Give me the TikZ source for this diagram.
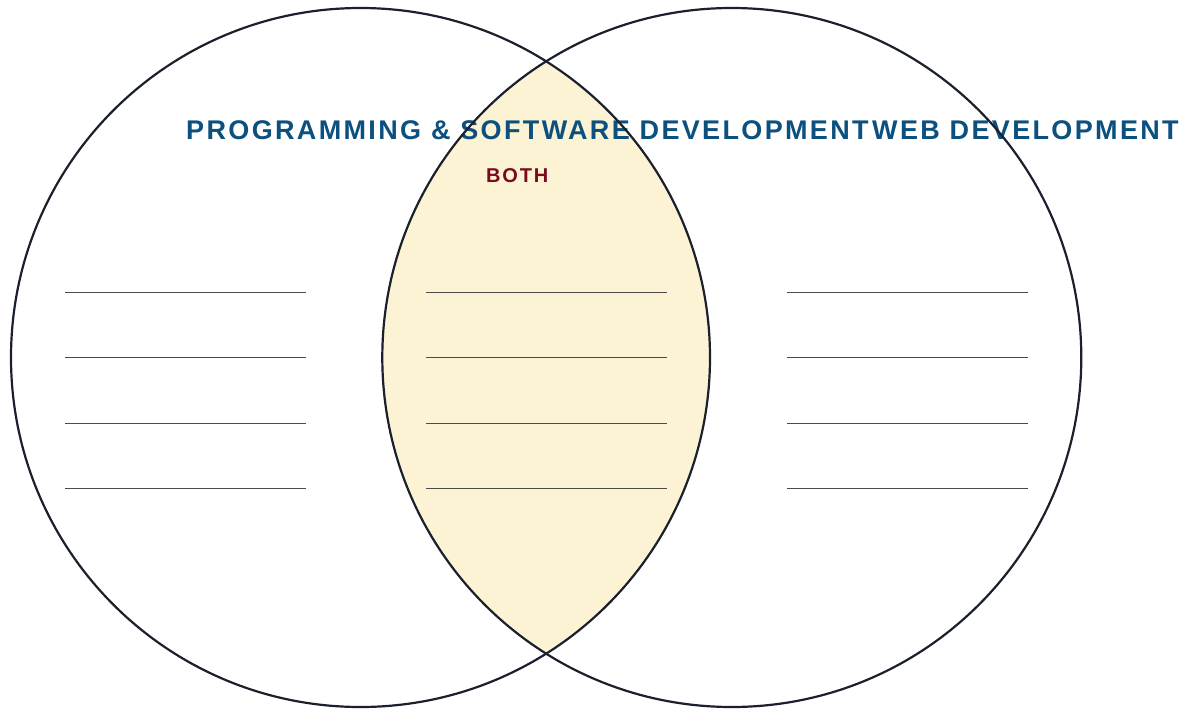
\documentclass[tikz,border=0pt]{standalone}
\usepackage{fontspec}
\newfontfamily\titlefont[LetterSpace=8.7]{Liberation Sans}
\newfontfamily\bothfont[LetterSpace=9]{Liberation Sans}
\definecolor{ringcol}{HTML}{1A202C}
\definecolor{lenscol}{HTML}{FCF3D4}
\definecolor{titleblue}{HTML}{0B507E}
\definecolor{bothred}{HTML}{7A0A1E}
\definecolor{rulegray}{HTML}{4A4A4A}
\tikzset{
  ring/.style={draw=ringcol, line width=2.2pt},
  writeline/.style={draw=rulegray, line width=0.9pt},
  titletext/.style={anchor=base west, inner sep=0pt, text=titleblue, font=\titlefont\bfseries\fontsize{27}{30}\selectfont},
  bothtext/.style={anchor=base west, inner sep=0pt, text=bothred, font=\bothfont\bfseries\fontsize{20}{24}\selectfont}
}
\begin{document}
\begin{tikzpicture}[x=1pt,y=-1pt]
\useasboundingbox (0,0) rectangle (1189,709);
\coordinate (cl) at (360.5,357.5);
\coordinate (cr) at (731.8,357.5);
\begin{scope}
  \clip (cl) circle[radius=349.5pt];
  \fill[lenscol] (cr) circle[radius=349.5pt];
\end{scope}
\foreach \yy [count=\i] in {292,357.5,423,488.5} {
  \coordinate (la\i) at (65,\yy);  \coordinate (lb\i) at (305.5,\yy);
  \coordinate (ma\i) at (426,\yy); \coordinate (mb\i) at (666.5,\yy);
  \coordinate (ra\i) at (787,\yy); \coordinate (rb\i) at (1027.5,\yy);
  \draw[writeline] (la\i) -- (lb\i);
  \draw[writeline] (ma\i) -- (mb\i);
  \draw[writeline] (ra\i) -- (rb\i);
}
\node[titletext] (tl) at (186,139.5) {PROGRAMMING \& SOFTWARE DEVELOPMENT};
\node[titletext] (tr) at (872,139.5) {WEB DEVELOPMENT};
\node[bothtext] (both) at (486,182.5) {BOTH};
\draw[ring] (cl) circle[radius=349.5pt];
\draw[ring] (cr) circle[radius=349.5pt];
\end{tikzpicture}
\end{document}
